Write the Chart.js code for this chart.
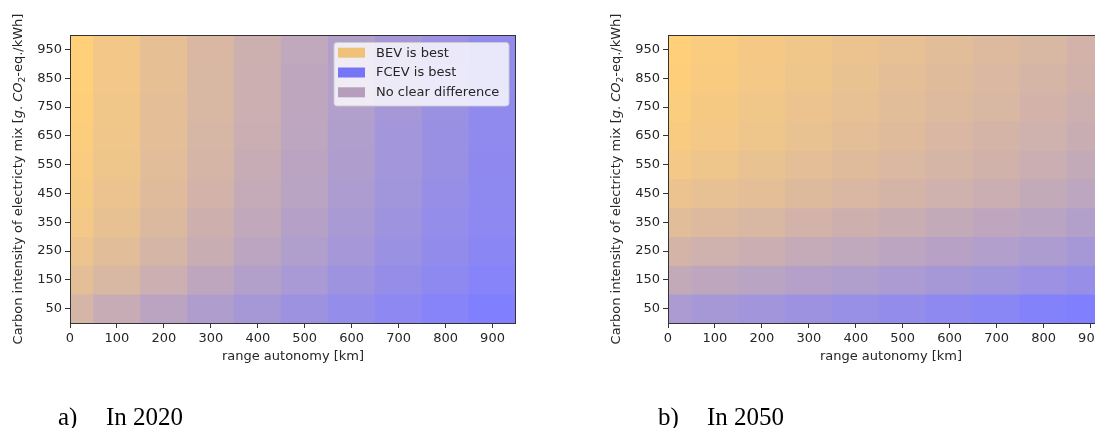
<!DOCTYPE html>
<html><head><meta charset="utf-8">
<script src="https://cdn.jsdelivr.net/npm/chart.js@4.4.1/dist/chart.umd.min.js"></script>
<style>
html,body{margin:0;padding:0;background:#fff;overflow:hidden;width:1095px;height:428px;}
#wrap{position:relative;width:1095px;height:428px;overflow:hidden;}
canvas{position:absolute;top:0;}
#c1{left:0}
#c2{left:598px}
</style></head><body>
<div id="wrap"><canvas id="c1" width="540" height="428"></canvas><canvas id="c2" width="540" height="428"></canvas></div>
<script>
// ---- data ----
const rangeKm = [0,100,200,300,400,500,600,700,800,900];          // cell centres (km)
const carbonIntensity = [950,850,750,650,550,450,350,250,150,50]; // cell centres (g CO2-eq/kWh), top to bottom
const cellHalf = 50;
const xTickLabels = [0,100,200,300,400,500,600,700,800,900];
const yTickLabels = [50,150,250,350,450,550,650,750,850,950];
// share of cases where FCEV is best (0 = BEV best, 1 = FCEV best), rows follow carbonIntensity
const share2020 = [
  [0.00,0.10,0.20,0.30,0.40,0.50,0.60,0.70,0.78,0.86],
  [0.00,0.10,0.20,0.31,0.41,0.51,0.61,0.70,0.79,0.86],
  [0.01,0.11,0.21,0.31,0.41,0.51,0.61,0.71,0.79,0.87],
  [0.02,0.12,0.22,0.32,0.42,0.52,0.62,0.72,0.80,0.87],
  [0.04,0.13,0.23,0.33,0.44,0.54,0.63,0.72,0.80,0.88],
  [0.06,0.15,0.25,0.35,0.46,0.55,0.65,0.74,0.82,0.89],
  [0.09,0.18,0.28,0.39,0.49,0.58,0.67,0.76,0.84,0.90],
  [0.14,0.23,0.33,0.43,0.53,0.62,0.71,0.79,0.86,0.92],
  [0.21,0.31,0.41,0.51,0.60,0.68,0.76,0.83,0.89,0.95],
  [0.33,0.44,0.54,0.63,0.70,0.77,0.84,0.90,0.95,1.00]
];
const share2050 = [
  [0.00,0.04,0.08,0.12,0.15,0.19,0.23,0.27,0.31,0.35],
  [0.01,0.05,0.09,0.13,0.17,0.21,0.25,0.29,0.33,0.37],
  [0.03,0.07,0.11,0.15,0.19,0.23,0.27,0.31,0.35,0.40],
  [0.05,0.09,0.13,0.17,0.21,0.25,0.30,0.34,0.38,0.43],
  [0.09,0.13,0.17,0.21,0.25,0.29,0.33,0.37,0.42,0.47],
  [0.15,0.19,0.22,0.26,0.30,0.34,0.38,0.42,0.47,0.52],
  [0.23,0.27,0.31,0.35,0.39,0.43,0.47,0.51,0.55,0.60],
  [0.34,0.38,0.42,0.46,0.50,0.53,0.57,0.61,0.65,0.70],
  [0.47,0.51,0.55,0.59,0.62,0.66,0.70,0.74,0.78,0.82],
  [0.66,0.70,0.73,0.77,0.81,0.85,0.89,0.93,0.97,1.00]
];
const legendLabels = ['BEV is best','FCEV is best','No clear difference'];
const legendColors = ['rgba(240,178,72,0.72)','rgba(70,70,250,0.72)','rgba(150,115,155,0.65)'];
const xTitle = 'range autonomy [km]';

// ---- styling ----
const BEV_RGB = [255,207,122], FCEV_RGB = [128,128,255];
function mix(t){
  const c = BEV_RGB.map((v,i)=>Math.round(v + (FCEV_RGB[i]-v)*t));
  return `rgb(${c[0]},${c[1]},${c[2]})`;
}
const FONT = '"DejaVu Sans", sans-serif';
const FS = 13;
const TXT = '#262626';

function makeDatasets(share){
  return carbonIntensity.map((c,i)=>({
    data: rangeKm.map(r=>({x:r, y:[c-cellHalf, c+cellHalf]})),
    backgroundColor: share[i].map(mix),
    borderWidth:0, barPercentage:1, categoryPercentage:1, grouped:false, clip:0
  }));
}

const decor = {
  id:'decor',
  afterDraw(chart, args, o){
    const ctx = chart.ctx, a = chart.chartArea;
    ctx.save();
    // frame
    ctx.strokeStyle = '#333'; ctx.lineWidth = 1;
    ctx.strokeRect(Math.round(a.left)+0.5, Math.round(a.top)+0.5, Math.round(a.right-a.left)-1, Math.round(a.bottom-a.top));
    // x title
    ctx.fillStyle = TXT;
    ctx.font = FS+'px ' + FONT;
    ctx.textAlign = 'center'; ctx.textBaseline = 'middle';
    ctx.fillText(xTitle, (a.left+a.right)/2, 357);
    // y title with mixed fonts
    const segs = [
      {t:'Carbon intensity of electricty mix [', f:FS+'px '+FONT, dy:0},
      {t:'g', f:'italic '+FS+'px '+FONT, dy:0},
      {t:'. ', f:FS+'px '+FONT, dy:0},
      {t:'CO', f:'italic '+FS+'px '+FONT, dy:0},
      {t:'2', f:'9px '+FONT, dy:3.5},
      {t:'-eq./kWh]', f:FS+'px '+FONT, dy:0}
    ];
    let total = 0;
    segs.forEach(s=>{ctx.font=s.f; s.w=ctx.measureText(s.t).width; total+=s.w;});
    ctx.translate(19, (a.top+a.bottom)/2);
    ctx.rotate(-Math.PI/2);
    ctx.textAlign = 'left';
    let x = -total/2;
    segs.forEach(s=>{ctx.font=s.f; ctx.fillText(s.t, x, s.dy); x+=s.w;});
    ctx.setTransform(1,0,0,1,0,0);
    // caption
    ctx.font = '25px "Liberation Serif", "Times New Roman", serif';
    ctx.fillStyle = '#000'; ctx.textAlign='left'; ctx.textBaseline='alphabetic';
    ctx.fillText(o.capA, o.capX1, 425);
    ctx.fillText(o.capB, o.capX2, 425);
    // legend
    if (o.legend){
      const bx = 334, by = 42.5, bw = 175, bh = 63.5;
      ctx.beginPath();
      if (ctx.roundRect) ctx.roundRect(bx, by, bw, bh, 3); else ctx.rect(bx,by,bw,bh);
      ctx.fillStyle = 'rgba(255,255,255,0.8)'; ctx.fill();
      ctx.strokeStyle = 'rgba(204,204,204,0.9)'; ctx.lineWidth = 1; ctx.stroke();
      ctx.font = FS+'px ' + FONT; ctx.textBaseline = 'middle';
      legendLabels.forEach((l,i)=>{
        const cy = 52.7 + i*19.8;
        ctx.fillStyle = legendColors[i];
        ctx.fillRect(338, cy-5, 27, 10);
        ctx.fillStyle = TXT;
        ctx.fillText(l, 376, cy+0.5);
      });
    }
    ctx.restore();
  }
};

function makeChart(id, share, opts){
  return new Chart(document.getElementById(id), {
    type:'bar',
    data:{datasets: makeDatasets(share)},
    options:{
      responsive:false, animation:false,
      layout:{padding:{left:0,right:24,top:35,bottom:75}},
      plugins:{legend:{display:false}, tooltip:{enabled:false}, decor:opts},
      scales:{
        x:{type:'linear', min:0, max:950, offset:false,
           afterBuildTicks:s=>{s.ticks = xTickLabels.map(v=>({value:v}));},
           afterFit:s=>{s.height=30;},
           ticks:{font:{family:FONT,size:FS}, color:TXT, padding:3, autoSkip:false, maxRotation:0},
           grid:{offset:false, drawOnChartArea:false, drawTicks:true, tickLength:5, tickColor:'#333', tickWidth:1},
           border:{display:false}},
        y:{type:'linear', min:0, max:1000,
           afterBuildTicks:s=>{s.ticks = yTickLabels.map(v=>({value:v}));},
           afterFit:s=>{s.width=70;},
           ticks:{font:{family:FONT,size:FS}, color:TXT, padding:3, autoSkip:false},
           grid:{drawOnChartArea:false, drawTicks:true, tickLength:5, tickColor:'#333', tickWidth:1},
           border:{display:false}}
      }
    },
    plugins:[decor]
  });
}
makeChart('c1', share2020, {legend:true, capA:'a)', capB:'In 2020', capX1:58, capX2:106});
makeChart('c2', share2050, {legend:false, capA:'b)', capB:'In 2050', capX1:60, capX2:109});
</script></body></html>
